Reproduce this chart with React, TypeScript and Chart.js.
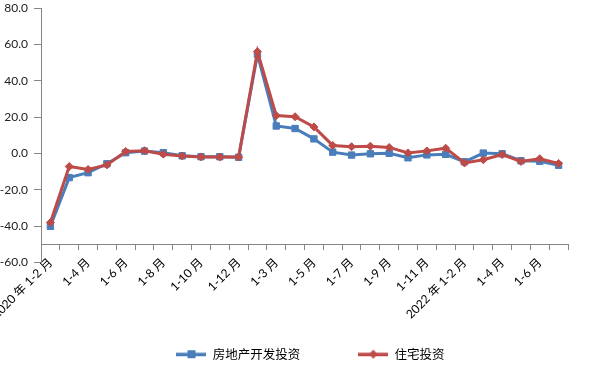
import React, { useEffect, useRef } from "react";
import { Chart, registerables } from "chart.js";

Chart.register(...registerables);

const categories: string[] = [
  "2020 年 1-2 月", "1-3 月", "1-4 月", "1-5 月", "1-6 月", "1-7 月", "1-8 月",
  "1-9 月", "1-10 月", "1-11 月", "1-12 月",
  "2021 年 1-2 月", "1-3 月", "1-4 月", "1-5 月", "1-6 月", "1-7 月", "1-8 月",
  "1-9 月", "1-10 月", "1-11 月", "1-12 月",
  "2022 年 1-2 月", "1-3 月", "1-4 月", "1-5 月", "1-6 月", "1-7 月",
];

const seriesNames: string[] = ["房地产开发投资", "住宅投资"];

const realEstateInvestment: number[] = [
  -40.1, -13.3, -10.6, -5.7, 0.4, 1.3, 0.4, -1.3, -1.8, -1.8, -2.1,
  54.5, 15.1, 13.7, 8.0, 0.7, -0.9, -0.2, 0.1, -2.4, -0.8, -0.5,
  -4.6, 0.2, -0.2, -4.0, -4.3, -6.5,
];

const residentialInvestment: number[] = [
  -38.0, -7.2, -8.8, -6.3, 1.1, 1.5, -0.4, -1.4, -1.9, -2.0, -2.0,
  56.0, 20.8, 20.2, 14.6, 4.4, 3.7, 4.0, 3.3, 0.3, 1.4, 2.9,
  -5.2, -3.5, -0.6, -4.4, -2.9, -5.5,
];

const yTickMin = -60;
const yTickMax = 80;
const yTickStep = 20;
const xAxisCrossing = -50;

const BLUE = "#4A7EBB";
const RED = "#BE4B48";
const AXIS = "#868686";
const FONT = "Lato, 'Noto Sans CJK SC', sans-serif";

function legendIcon(color: string, marker: "square" | "diamond"): HTMLCanvasElement {
  const c = document.createElement("canvas");
  c.width = 30;
  c.height = 10;
  const ctx = c.getContext("2d")!;
  ctx.fillStyle = color;
  ctx.fillRect(0, 3.5, 30, 3.5);
  if (marker === "square") {
    ctx.fillRect(11, 1, 8, 8);
  } else {
    ctx.beginPath();
    ctx.moveTo(15, 0.5);
    ctx.lineTo(19.5, 5);
    ctx.lineTo(15, 9.5);
    ctx.lineTo(10.5, 5);
    ctx.closePath();
    ctx.fill();
  }
  return c;
}

const legendShift = {
  id: "legendShift",
  afterLayout(chart: any) {
    if (chart.legend) {
      chart.legend.left += 32;
    }
  },
};

export default function App() {
  const ref = useRef<HTMLCanvasElement | null>(null);

  useEffect(() => {
    if (!ref.current) return;
    const icons = [legendIcon(BLUE, "square"), legendIcon(RED, "diamond")];
    const chart = new Chart(ref.current, {
      type: "line",
      data: {
        labels: categories,
        datasets: [
          {
            label: seriesNames[0],
            data: realEstateInvestment,
            borderColor: BLUE,
            backgroundColor: BLUE,
            borderWidth: 3,
            pointStyle: "rect",
            pointRadius: 4.5,
            pointBorderWidth: 1,
            pointBackgroundColor: BLUE,
            pointBorderColor: BLUE,
            tension: 0,
            order: 1,
            xAxisID: "x",
            yAxisID: "y",
          },
          {
            label: seriesNames[1],
            data: residentialInvestment,
            borderColor: RED,
            backgroundColor: RED,
            borderWidth: 3,
            pointStyle: "rectRot",
            pointRadius: 4,
            pointBorderWidth: 1,
            pointBackgroundColor: RED,
            pointBorderColor: RED,
            tension: 0,
            order: 0,
            xAxisID: "x",
            yAxisID: "y",
          },
        ],
      },
      plugins: [legendShift],
      options: {
        responsive: false,
        animation: false,
        devicePixelRatio: 1,
        layout: { padding: { left: 0, right: 0, top: 8, bottom: 8.5 } },
        plugins: {
          tooltip: { enabled: false },
          title: { display: false },
          legend: {
            display: true,
            position: "bottom",
            align: "center",
            labels: {
              usePointStyle: true,
              pointStyleWidth: 30,
              padding: 58,
              color: "#000",
              font: { family: "'Noto Sans CJK SC', sans-serif", size: 12.5 },
              generateLabels: (ch: any) =>
                ch.data.datasets.map((ds: any, i: number) => ({
                  text: ds.label,
                  pointStyle: icons[i],
                  fillStyle: ds.borderColor,
                  strokeStyle: ds.borderColor,
                  lineWidth: 0,
                  hidden: false,
                  datasetIndex: i,
                  fontColor: "#000",
                })),
            },
          },
        },
        scales: {
          x: {
            type: "category",
            position: { y: xAxisCrossing } as any,
            offset: true,
            grid: {
              offset: true,
              drawOnChartArea: false,
              drawTicks: true,
              tickLength: 5,
              color: AXIS,
              lineWidth: 1,
            },
            border: { display: true, color: AXIS, width: 1 },
            ticks: {
              autoSkip: false,
              minRotation: 45,
              maxRotation: 45,
              padding: 6,
              color: "#000",
              font: { family: FONT, size: 12 },
              callback: (_v: any, i: number) => (i % 2 === 0 ? categories[i] : ""),
            },
            afterFit: (s: any) => {
              s.paddingLeft = 0;
              s.paddingRight = 0;
            },
          },
          y: {
            type: "linear",
            position: "left",
            min: yTickMin,
            max: yTickMax,
            ticks: {
              stepSize: yTickStep,
              padding: 6,
              color: "#222",
              font: { family: FONT, size: 12 },
              callback: (v: any) => Number(v).toFixed(1),
            },
            grid: {
              drawOnChartArea: false,
              drawTicks: true,
              tickLength: 7,
              color: AXIS,
              lineWidth: 1,
            },
            border: { display: true, color: AXIS, width: 1 },
            afterFit: (s: any) => {
              s.width = 41;
              s.paddingTop = 0;
              s.paddingBottom = 0;
            },
          },
          yR: {
            type: "linear",
            position: "right",
            display: true,
            grid: { display: false },
            ticks: { display: false },
            border: { display: false },
            afterFit: (s: any) => {
              s.width = 21;
            },
          },
          xB: {
            type: "category",
            position: "bottom",
            display: true,
            grid: { display: false },
            ticks: { display: false },
            border: { display: false },
            afterFit: (s: any) => {
              s.height = 27.5;
            },
          },
        },
      } as any,
    });
    return () => chart.destroy();
  }, []);

  return (
    <div style={{ position: "absolute", left: 0, top: 0, width: 589, height: 379, background: "#fff" }}>
      <canvas ref={ref} width={589} height={379} />
    </div>
  );
}
